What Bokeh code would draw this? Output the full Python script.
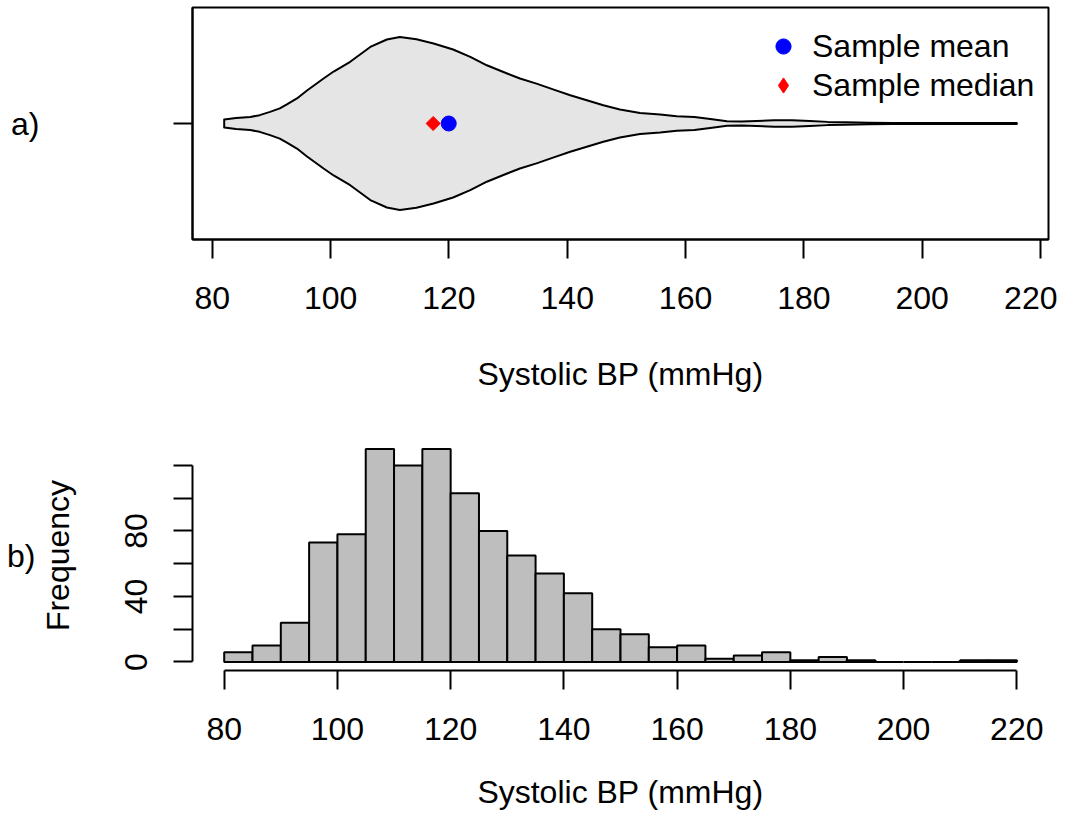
import numpy as np
from bokeh.plotting import figure
from bokeh.layouts import column
from bokeh.models import FixedTicker, Range1d, Legend, LegendItem, LinearAxis
from bokeh.embed import file_html
from bokeh.resources import INLINE

FONT = "Liberation Sans"

# ---------------- data ----------------
bp_ticks = [80, 100, 120, 140, 160, 180, 200, 220]

# violin outline: systolic BP value and half-width of the density (y-axis units)
violin_x = [82, 84, 86.4, 88, 89.75, 91.4, 92.6, 94.3, 96, 98.8, 100.5, 103.3, 106.7,
            109.5, 111.7, 114.5, 117.4, 120.7, 123.6, 126.4, 129.2, 132, 134.8, 137.6,
            140.5, 143.3, 146.1, 148.9, 152.3, 155.7, 158.5, 161.5, 164.5, 167, 169.5,
            172, 175, 178, 181, 184, 187, 191, 195, 200, 205, 210, 216]
violin_halfwidth = [0.017, 0.024, 0.028, 0.036, 0.050, 0.065, 0.082, 0.108, 0.142, 0.194,
                    0.224, 0.266, 0.330, 0.362, 0.373, 0.363, 0.345, 0.319, 0.287, 0.251,
                    0.222, 0.194, 0.172, 0.147, 0.122, 0.100, 0.079, 0.060, 0.045, 0.039,
                    0.031, 0.028, 0.018, 0.010, 0.009, 0.011, 0.014, 0.014, 0.011, 0.007,
                    0.005, 0.003, 0.002, 0.002, 0.002, 0.002, 0.002]
sample_mean = 119.96
sample_median = 117.33

bin_edges = [80, 85, 90, 95, 100, 105, 110, 115, 120, 125, 130, 135, 140, 145, 150,
             155, 160, 165, 170, 175, 180, 185, 190, 195, 200, 205, 210, 215, 220]
counts = [6, 10, 24, 73, 78, 130, 120, 130, 103, 80, 65, 54, 42, 20, 17, 9, 10,
          2, 4, 6, 1, 3, 1, 0, 0, 0, 1, 1]
freq_ticks = [0, 20, 40, 60, 80, 100, 120]
freq_labels = {0: "0", 40: "40", 80: "80"}

FS = "32px"
LW = 2


def style_axis(ax):
    ax.major_tick_out = 19
    ax.major_tick_in = 0
    ax.major_tick_line_width = LW
    ax.major_tick_line_color = "black"
    ax.minor_tick_line_color = None
    ax.axis_line_width = LW
    ax.axis_line_color = "black"
    ax.major_label_text_font = FONT
    ax.major_label_text_font_size = FS
    ax.major_label_text_color = "black"
    ax.axis_label_text_font = FONT
    ax.axis_label_text_font_size = FS
    ax.axis_label_text_font_style = "normal"
    ax.axis_label_text_color = "black"


def horizontal_label(ax):
    try:
        ax.axis_label_orientation = "horizontal"
    except Exception:
        pass


# ---------------- top panel: violin ----------------
p1 = figure(width=1057, height=420,
            x_range=Range1d(76.64, 221.36), y_range=Range1d(0.5, 1.5),
            output_backend="svg", toolbar_location=None,
            min_border_left=192, min_border_right=9,
            min_border_top=7, min_border_bottom=181)
p1.xgrid.grid_line_color = None
p1.ygrid.grid_line_color = None
p1.outline_line_color = "black"
p1.outline_line_width = LW
p1.background_fill_color = "white"
p1.border_fill_color = "white"

vx = list(violin_x) + list(violin_x[::-1])
vy = [1 + h for h in violin_halfwidth] + [1 - h for h in violin_halfwidth[::-1]]
p1.patch(vx, vy, fill_color="#E5E5E5", line_color="black", line_width=LW,
         line_join="round")

r_mean = p1.scatter([sample_mean], [1], marker="circle", size=15,
                    fill_color="#0000FF", line_color="#0000FF")
r_med = p1.scatter([sample_median], [1], marker="square", angle=np.pi / 4, size=10,
                   fill_color="#FF0000", line_color="#FF0000")
# legend key for the median (diamond shape in the key)
r_med_key = p1.scatter([sample_median], [1], marker="diamond", size=0,
                       fill_color="#FF0000", line_color="#FF0000")

xa = p1.xaxis[0]
style_axis(xa)
xa.ticker = FixedTicker(ticks=bp_ticks)
xa.major_label_standoff = 28
xa.axis_label = "Systolic BP (mmHg)"
xa.axis_label_standoff = 44

ya = p1.yaxis[0]
style_axis(ya)
ya.ticker = FixedTicker(ticks=[1])
ya.major_label_overrides = {1: ""}
ya.major_label_standoff = 0
ya.axis_label = "a)"
ya.axis_label_standoff = 134
horizontal_label(ya)

leg1 = Legend(items=[LegendItem(label="Sample mean", renderers=[r_mean])],
              location=(572, 174), glyph_width=38, glyph_height=38,
              label_standoff=10, padding=0, margin=0, spacing=0,
              border_line_color=None, background_fill_alpha=0,
              label_text_font=FONT, label_text_font_size=FS,
              label_text_color="black")
leg2 = Legend(items=[LegendItem(label="Sample median", renderers=[r_med_key])],
              location=(572, 135), glyph_width=38, glyph_height=38,
              label_standoff=10, padding=0, margin=0, spacing=0,
              border_line_color=None, background_fill_alpha=0,
              label_text_font=FONT, label_text_font_size=FS,
              label_text_color="black")
p1.add_layout(leg1, "center")
p1.add_layout(leg2, "center")

# ---------------- bottom panel: histogram ----------------
p2 = figure(width=1057, height=392,
            x_range=Range1d(74.4, 225.6), y_range=Range1d(-5.2, 135.2),
            output_backend="svg", toolbar_location=None,
            min_border_left=192, min_border_right=9,
            min_border_top=20, min_border_bottom=140)
p2.xgrid.grid_line_color = None
p2.ygrid.grid_line_color = None
p2.outline_line_color = None
p2.background_fill_color = "white"
p2.border_fill_color = "white"

p2.quad(left=bin_edges[:-1], right=bin_edges[1:], top=counts, bottom=0,
        fill_color="#BEBEBE", line_color="black", line_width=LW)

xb = p2.xaxis[0]
style_axis(xb)
xb.ticker = FixedTicker(ticks=bp_ticks)
xb.bounds = (bp_ticks[0], bp_ticks[-1])
xb.major_label_standoff = 28
xb.axis_label = "Systolic BP (mmHg)"
xb.axis_label_standoff = 31

yb = p2.yaxis[0]
style_axis(yb)
yb.ticker = FixedTicker(ticks=freq_ticks)
yb.bounds = (freq_ticks[0], freq_ticks[-1])
yb.major_label_overrides = {t: freq_labels.get(t, "") for t in freq_ticks}
yb.major_label_orientation = "parallel"
yb.major_label_standoff = 26
yb.axis_label = "Frequency"
yb.axis_label_standoff = 47

bax = LinearAxis(ticker=FixedTicker(ticks=[]), axis_label="b)")
style_axis(bax)
bax.axis_line_color = None
bax.major_tick_out = 0
bax.major_label_standoff = 0
bax.axis_label_standoff = 1
horizontal_label(bax)
p2.add_layout(bax, "left")

layout = column(p1, p2, spacing=0)
open("out.html", "w").write(file_html(layout, INLINE))
